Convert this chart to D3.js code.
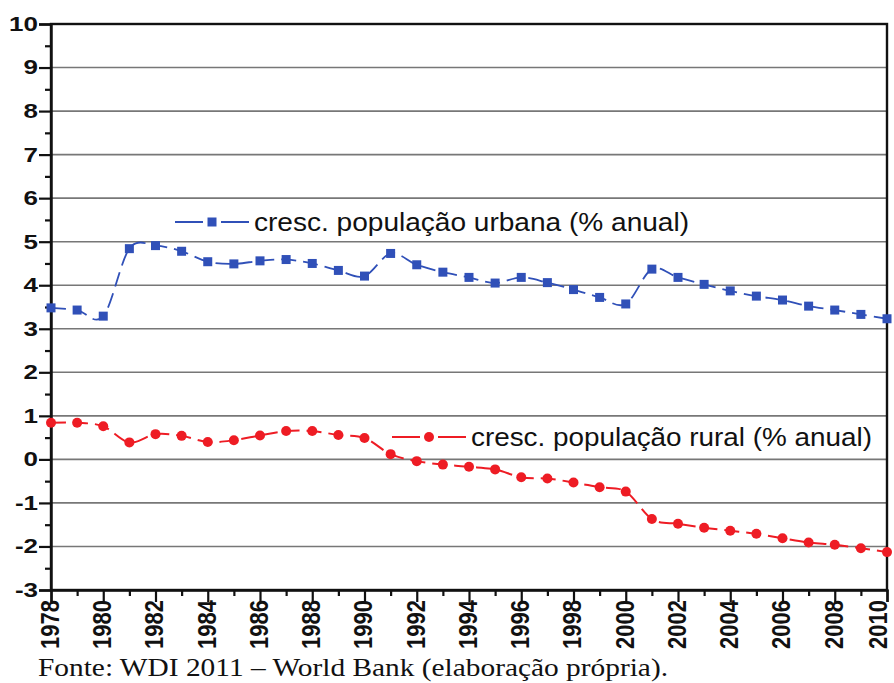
<!DOCTYPE html>
<html>
<head>
<meta charset="utf-8">
<script src="https://cdn.jsdelivr.net/npm/d3@7"></script>
<style>
  body { margin: 0; background: #fff; }
  svg { display: block; }
</style>
</head>
<body>
<svg class="chart-svg"></svg>
<script>
// anos e valores
const years = d3.range(1978, 2011);
const urbana = [3.48, 3.43, 3.29, 4.84, 4.91, 4.78, 4.54, 4.49, 4.56, 4.59, 4.50,
  4.34, 4.21, 4.73, 4.47, 4.30, 4.18, 4.05, 4.18, 4.06, 3.90, 3.72, 3.57,
  4.37, 4.18, 4.02, 3.87, 3.75, 3.66, 3.52, 3.43, 3.33, 3.23];
const rural = [0.84, 0.84, 0.76, 0.39, 0.58, 0.54, 0.40, 0.44, 0.55, 0.65, 0.65,
  0.56, 0.49, 0.12, -0.04, -0.12, -0.17, -0.23, -0.41, -0.44, -0.53, -0.64, -0.74,
  -1.37, -1.48, -1.57, -1.64, -1.71, -1.81, -1.91, -1.96, -2.04, -2.13];
const yTicks = d3.range(-3, 11);
const xTicks = d3.range(1978, 2011, 2);
const legendUrbana = "cresc. população urbana (% anual)";
const legendRural = "cresc. população rural (% anual)";
const fonte = "Fonte: WDI 2011 – World Bank (elaboração própria).";

const W = 894, H = 683;
const m = { left: 51, right: 887, top: 24, bottom: 590 };
const sans = "'Liberation Sans', Arial, sans-serif";

const svg = d3.select(".chart-svg").attr("width", W).attr("height", H);

const x = d3.scaleLinear().domain([1978, 2010]).range([m.left, m.right]);
const y = d3.scaleLinear().domain([-3, 10]).range([m.bottom, m.top]);

// grade
svg.append("g")
  .selectAll("line")
  .data(yTicks.filter(d => d > -3 && d < 10))
  .join("line")
  .attr("x1", m.left).attr("x2", m.right)
  .attr("y1", d => y(d)).attr("y2", d => y(d))
  .attr("stroke", "#777").attr("stroke-width", 1.6);

// moldura
svg.append("rect")
  .attr("x", m.left).attr("y", m.top)
  .attr("width", m.right - m.left).attr("height", m.bottom - m.top)
  .attr("fill", "none").attr("stroke", "#111").attr("stroke-width", 2.4);

// eixo y
const yAxis = svg.append("g")
  .attr("transform", `translate(${m.left},0)`)
  .call(d3.axisLeft(y).tickValues(yTicks).tickSize(12).tickPadding(2).tickFormat(d => String(d)));
svg.append("g")
  .attr("transform", `translate(${m.left},0)`)
  .call(d3.axisLeft(y).tickValues(d3.range(-2.5, 10, 1)).tickSize(6).tickFormat(""))
  .call(g => g.select(".domain").remove());

// eixo x
const xAxis = svg.append("g")
  .attr("transform", `translate(0,${m.bottom})`)
  .call(d3.axisBottom(x).tickValues(xTicks).tickSize(12).tickFormat(d => String(d)));
svg.append("g")
  .attr("transform", `translate(0,${m.bottom})`)
  .call(d3.axisBottom(x).tickValues(d3.range(1979, 2010, 2)).tickSize(6).tickFormat(""))
  .call(g => g.select(".domain").remove());

svg.selectAll(".tick line").attr("stroke", "#111").attr("stroke-width", 2.2);
svg.selectAll(".domain").attr("stroke", "#111").attr("stroke-width", 2.4);
svg.selectAll(".tick text")
  .attr("fill", "#111")
  .style("font-family", sans)
  .style("font-weight", "bold");

// rótulos do eixo y, um pouco alargados como no original
yAxis.selectAll(".tick text")
  .style("font-size", "20px")
  .attr("x", -13 / 1.3)
  .attr("transform", "scale(1.3,1)");

xAxis.selectAll(".tick text")
  .style("font-size", "22px")
  .attr("transform", "rotate(-90) scale(1,1.2)")
  .attr("x", -10)
  .attr("y", d => d === 2010 ? -8 : -1.5)
  .attr("dy", "0.35em")
  .style("text-anchor", "end");

// séries
const line = d3.line()
  .x((d, i) => x(years[i]))
  .y(d => y(d))
  .curve(d3.curveCardinal.tension(0));

const blue = "#3050b8", red = "#ee1c24";

svg.append("path")
  .datum(urbana)
  .attr("d", line)
  .attr("fill", "none").attr("stroke", blue).attr("stroke-width", 1.8)
  .attr("stroke-dasharray", "15,7");
svg.append("g")
  .selectAll("rect")
  .data(urbana)
  .join("rect")
  .attr("x", (d, i) => x(years[i]) - 4.5).attr("y", d => y(d) - 4.5)
  .attr("width", 9).attr("height", 9)
  .attr("fill", blue);

svg.append("path")
  .datum(rural)
  .attr("d", line)
  .attr("fill", "none").attr("stroke", red).attr("stroke-width", 2)
  .attr("stroke-dasharray", "15,7");
svg.append("g")
  .selectAll("circle")
  .data(rural)
  .join("circle")
  .attr("cx", (d, i) => x(years[i])).attr("cy", d => y(d))
  .attr("r", 5)
  .attr("fill", red);

// legendas
function legenda(lx, ly, color, shape, label, len) {
  const g = svg.append("g").attr("transform", `translate(${lx},${ly})`);
  g.append("line").attr("x1", 0).attr("x2", 28).attr("stroke", color).attr("stroke-width", 2);
  g.append("line").attr("x1", 46).attr("x2", 74).attr("stroke", color).attr("stroke-width", 2);
  if (shape === "rect") {
    g.append("rect").attr("x", 32.5).attr("y", -4.5).attr("width", 9).attr("height", 9).attr("fill", color);
  } else {
    g.append("circle").attr("cx", 37).attr("cy", 0).attr("r", 5).attr("fill", color);
  }
  g.append("text")
    .attr("x", 79).attr("y", 0).attr("dy", "0.36em")
    .attr("fill", "#111")
    .attr("textLength", len).attr("lengthAdjust", "spacingAndGlyphs")
    .style("font-family", sans)
    .style("font-size", "25px")
    .text(label);
}
legenda(175, 222, blue, "rect", legendUrbana, 435);
legenda(392, 437, red, "circle", legendRural, 401);

// fonte
svg.append("text")
  .attr("x", 38).attr("y", 676)
  .attr("fill", "#111")
  .attr("textLength", 630).attr("lengthAdjust", "spacingAndGlyphs")
  .style("font-family", "'Liberation Serif', 'Times New Roman', serif")
  .style("font-size", "26px")
  .text(fonte);
</script>
</body>
</html>
